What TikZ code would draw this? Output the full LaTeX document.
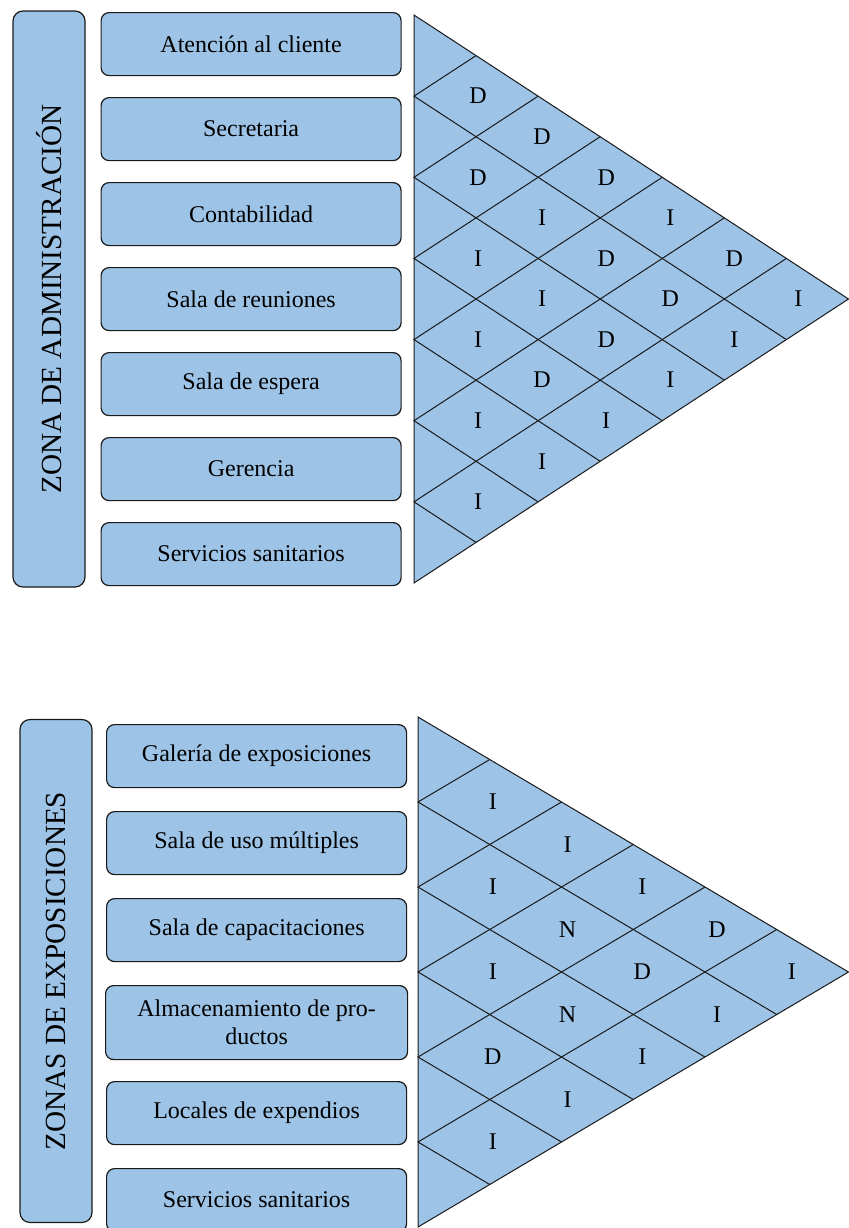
\documentclass[tikz,border=0pt]{standalone}
\usepackage{fontspec}
\setmainfont{Liberation Serif}
\usetikzlibrary{calc,positioning}
\definecolor{ink}{RGB}{26,26,26}
\definecolor{cellblue}{RGB}{157,195,230}
\tikzset{
  area/.style={draw=ink,line width=0.6pt,rounded corners=4pt,fill=cellblue,align=center,inner sep=2pt,minimum width=150pt,minimum height=31.5pt,font=\fontsize{12}{14}\selectfont},
  zone/.style={draw=ink,line width=0.6pt,rounded corners=5pt,fill=cellblue,rotate=90,minimum height=36pt,inner sep=2pt,font=\fontsize{14.6}{17}\selectfont},
  grid/.style={line width=0.5pt,draw=ink},
  rel/.style={inner sep=1pt,font=\fontsize{12}{14}\selectfont}
}
\begin{document}
\begin{tikzpicture}[x=0.5pt,y=-0.5pt,node distance=10.4pt]
  \useasboundingbox (0,0) rectangle (849,1228);
  % zona de administracion
  \node[zone,minimum width=288pt] (admin) at (49,299) {ZONA DE ADMINISTRACIÓN};
  \node[area,anchor=north west] (atencion) at (100.5,12) {Atención al cliente};
  \node[area,below=of atencion] (secretaria) {Secretaria};
  \node[area,below=of secretaria] (contab) {Contabilidad};
  \node[area,below=of contab] (reuniones) {Sala de reuniones};
  \node[area,below=of reuniones] (espera) {Sala de espera};
  \node[area,below=of espera] (gerencia) {Gerencia};
  \node[area,below=of gerencia] (sanitA) {Servicios sanitarios};
  \coordinate (tA) at (414,15); \coordinate (tB) at (414,583); \coordinate (tC) at (848.5,299);
  \fill[cellblue] (tA) -- (tC) -- (tB) -- cycle;
  \foreach \k in {1,...,6}
    \draw[grid] ($(tA)!{\k/7}!(tC)$) -- ($(tA)!{\k/7}!(tB)$) -- ($(tB)!{(7-\k)/7}!(tC)$);
  \draw[grid] (tA) -- (tC) -- (tB) -- cycle;
  \foreach \i/\j/\r in {1/2/D,2/3/D,3/4/I,4/5/I,5/6/I,6/7/I,1/3/D,2/4/I,3/5/I,4/6/D,5/7/I,
      1/4/D,2/5/D,3/6/D,4/7/I,1/5/I,2/6/D,3/7/I,1/6/D,2/7/I,1/7/I}
    \node[rel] (ta\i\j) at ({414+(434.5/7+2)*(\j-\i)},{15+81.14*(\i+\j-1)/2}) {\r};
  % zonas de exposiciones
  \node[zone,minimum width=251.5pt] (expo) at (56,971) {ZONAS DE EXPOSICIONES};
  \node[area,anchor=north west] (galeria) at (106,724) {Galería de exposiciones};
  \node[area,below=11.4pt of galeria] (multiples) {Sala de uso múltiples};
  \node[area,below=11.4pt of multiples] (capacit) {Sala de capacitaciones};
  \node[area,below=11.4pt of capacit,minimum width=151pt,minimum height=37pt] (almacen) {Almacenamiento de pro-\\ductos};
  \node[area,below=10.4pt of almacen] (locales) {Locales de expendios};
  \node[area,below=11.4pt of locales] (sanitB) {Servicios sanitarios};
  \coordinate (bA) at (418,717); \coordinate (bB) at (418,1227); \coordinate (bC) at (848.5,972);
  \fill[cellblue] (bA) -- (bC) -- (bB) -- cycle;
  \foreach \k in {1,...,5}
    \draw[grid] ($(bA)!{\k/6}!(bC)$) -- ($(bA)!{\k/6}!(bB)$) -- ($(bB)!{(6-\k)/6}!(bC)$);
  \draw[grid] (bA) -- (bC) -- (bB) -- cycle;
  \foreach \i/\j/\r in {1/2/I,2/3/I,3/4/I,4/5/D,5/6/I,1/3/I,2/4/N,3/5/N,4/6/I,
      1/4/I,2/5/D,3/6/I,1/5/D,2/6/I,1/6/I}
    \node[rel] (ba\i\j) at ({418+(430.5/6+3)*(\j-\i)},{717+85*(\i+\j-1)/2}) {\r};
\end{tikzpicture}
\end{document}
